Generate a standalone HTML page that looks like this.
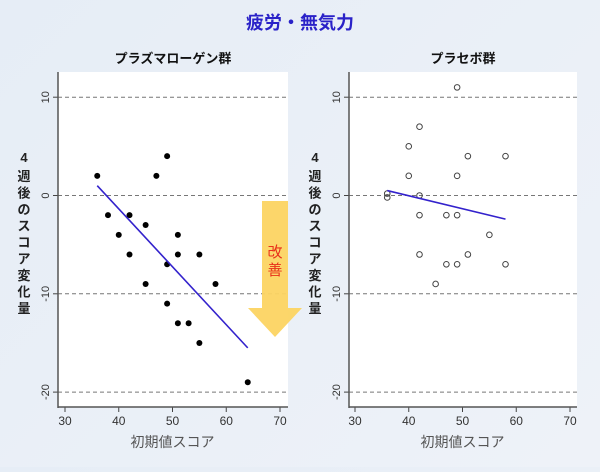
<!DOCTYPE html>
<html><head><meta charset="utf-8">
<style>
html,body{margin:0;padding:0;}
body{width:600px;height:467px;background:linear-gradient(135deg,#e6edf6,#eef2f8);overflow:hidden;font-family:"Liberation Sans","Noto Sans CJK JP",sans-serif;}
</style></head>
<body>
<svg id="chart" width="600" height="467" xmlns="http://www.w3.org/2000/svg" style="font-family:'Liberation Sans','Noto Sans CJK JP',sans-serif">
<text x="300" y="29" text-anchor="middle" font-size="18" font-weight="bold" fill="#2a22c8">疲労・無気力</text>
</svg>
<script>
const yTicks=[10,0,-10,-20];
const yTickLabels=['10','0','-10','-20'];
const xTicks=[30,40,50,60,70];
const xTickLabels=['30','40','50','60','70'];
const plasmaX=[36,38,40,42,42,45,45,47,49,49,49,51,51,51,53,55,55,58,64];
const plasmaY=[2,-2,-4,-2,-6,-3,-9,2,4,-7,-11,-4,-6,-13,-13,-6,-15,-9,-19];
const plasmaFitX=[36,64];
const plasmaFitY=[1,-15.5];
const placeboX=[49,42,40,51,58,40,49,36,36,42,42,47,49,55,42,51,47,49,58,45];
const placeboY=[11,7,5,4,4,2,2,0.2,-0.2,0,-2,-2,-2,-4,-6,-6,-7,-7,-7,-9];
const placeboFitX=[36,58];
const placeboFitY=[0.5,-2.4];

const svg=document.getElementById('chart');
const NS='http://www.w3.org/2000/svg';
function mk(tag,attrs,parent){const e=document.createElementNS(NS,tag);for(const k in attrs)e.setAttribute(k,attrs[k]);(parent||svg).appendChild(e);return e;}
function yScale(v){return 195.5-v*9.83;}

function panel(name,left,right,x30,x70,title,xs,ys,fx,fy,filled){
  const g=mk('g',{});
  
  
  const xS=v=>x30+(v-30)*(x70-x30)/40;
  const bg=mk('rect',{x:left,y:72,width:right-left,height:335,fill:'#ffffff'},g);
  
  
  const t=mk('text',{x:(left+right)/2,y:63,'text-anchor':'middle','font-size':13,'font-weight':'bold',fill:'#111'},g);
  t.textContent=title;
  
  
  yTicks.forEach((v,i)=>{
    const y=yScale(v);
    const gl=mk('line',{x1:left,x2:right,y1:y,y2:y,stroke:'#777','stroke-dasharray':'4,3','stroke-width':1},g);
    
    
    mk('line',{x1:left-5,x2:left,y1:y,y2:y,stroke:'#444'},g);
    const lb=mk('text',{x:0,y:0,transform:`translate(${left-9},${y}) rotate(-90)`,'text-anchor':'middle','font-size':11,fill:'#333'},g);
    lb.textContent=yTickLabels[i];
    
    
  });
  xTicks.forEach((v,i)=>{
    const x=xS(v);
    mk('line',{x1:x,x2:x,y1:407,y2:412,stroke:'#444'},g);
    const lb=mk('text',{x:x,y:425,'text-anchor':'middle','font-size':12,fill:'#333'},g);
    lb.textContent=xTickLabels[i];
    
    
  });
  mk('line',{x1:left,x2:left,y1:72,y2:408,stroke:'#555','stroke-width':1.5},g);
  mk('line',{x1:left,x2:right,y1:407,y2:407,stroke:'#555','stroke-width':1.5},g);
  const xt=mk('text',{x:(x30+x70)/2,y:447,'text-anchor':'middle','font-size':14,fill:'#555'},g);
  xt.textContent='初期値スコア';
  
  
  const yt=mk('text',{x:left-34,y:162,'text-anchor':'middle','font-size':13,'font-weight':'bold',fill:'#222'},g);
  
  
  ['4','週','後','の','ス','コ','ア','変','化','量'].forEach((c,i)=>{const ts=mk('tspan',{x:left-34,dy:i==0?0:(i==1?19:16.5)},yt);ts.textContent=c;});
  xs.forEach((v,i)=>{
    const c=mk('circle',{cx:xS(v),cy:yScale(ys[i]),r:filled?3:2.8,fill:filled?'#000':'none',stroke:filled?'none':'#444','stroke-width':1},g);
    
    
  });
  const fl=mk('line',{x1:xS(fx[0]),y1:yScale(fy[0]),x2:xS(fx[1]),y2:yScale(fy[1]),stroke:'#3322cc','stroke-width':1.6},g);
  
  
}
panel('plasmalogen-panel',58,288,65,280,'プラズマローゲン群',plasmaX,plasmaY,plasmaFitX,plasmaFitY,true);
panel('placebo-panel',349,577,355,570,'プラセボ群',placeboX,placeboY,placeboFitX,placeboFitY,false);

const ar=mk('polygon',{points:'262,201 288,201 288,308 302,308 275,337 248,308 262,308',fill:'#fcd462',opacity:0.95});


const at=mk('text',{x:275,y:257,'text-anchor':'middle','font-size':15,fill:'#e8301a'});


const t1=mk('tspan',{x:275,dy:0},at);t1.textContent='改';
const t2=mk('tspan',{x:275,dy:18},at);t2.textContent='善';
</script>
</body></html>
